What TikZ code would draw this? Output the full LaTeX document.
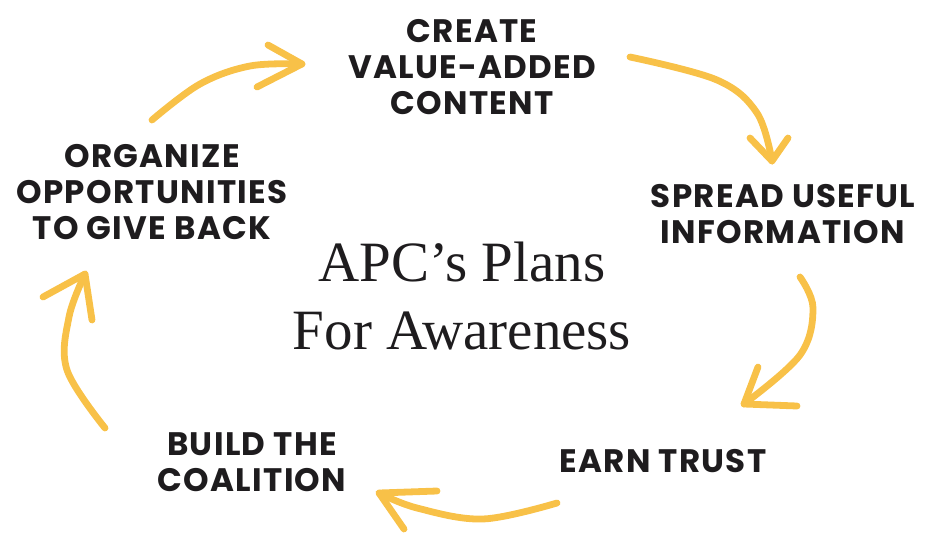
\documentclass[tikz,border=0pt]{standalone}
\usepackage{fontspec}
\newfontfamily\lblfont{Poppins}[LetterSpace=4]
\newfontfamily\titlefont{Liberation Serif}
\definecolor{arrowyellow}{RGB}{248,193,72}
\definecolor{labeltext}{RGB}{30,28,30}
\tikzset{
  lbl/.style={font=\lblfont\bfseries\fontsize{32.5}{36}\selectfont, text=labeltext, align=center, inner sep=0pt, anchor=north},
  ttl/.style={font=\titlefont\fontsize{57}{68}\selectfont, text=labeltext, align=center, inner sep=0pt},
  swoosh/.style={draw=arrowyellow, line width=6.8pt, line cap=round, line join=round},
}
\begin{document}
\begin{tikzpicture}[x=1pt,y=-1pt]
\useasboundingbox (0,0) rectangle (936,554);
% labels
\node[lbl] (create) at (472,19) {CREATE\\VALUE-ADDED\\CONTENT};
\node[lbl] (spread) at (783,184) {SPREAD USEFUL\\INFORMATION};
\node[lbl] (earn) at (663,449) {EARN TRUST};
\node[lbl] (build) at (252,432) {BUILD THE\\COALITION};
\node[lbl] (organize) at (152,144) {ORGANIZE\\OPPORTUNITIES\\TO GIVE BACK};
\node[ttl] (title) at (462,296) {APC’s Plans\\For Awareness};
% arrow 1: organize -> create
\coordinate (a1s) at (152,120);
\coordinate (a1t) at (302,64);
\draw[swoosh] plot[smooth, tension=0.6] coordinates {(a1s) (200,84) (250,66) (a1t)};
\draw[swoosh] (268,45) -- (a1t) -- (257,87);
% arrow 2: create -> spread
\coordinate (a2s) at (630,57);
\coordinate (a2t) at (772,161);
\draw[swoosh] plot[smooth, tension=0.6] coordinates {(a2s) (717,80) (757,113) (a2t)};
\draw[swoosh] (750,138) -- (a2t) -- (788,138);
% arrow 3: spread -> earn
\coordinate (a3s) at (800,277);
\coordinate (a3t) at (744,404);
\draw[swoosh] plot[smooth, tension=0.6] coordinates {(a3s) (813,308) (800,355) (a3t)};
\draw[swoosh] (758,367) -- (a3t) -- (797,406);
% arrow 4: earn -> build
\coordinate (a4s) at (557,503);
\coordinate (a4t) at (379,493);
\draw[swoosh] plot[smooth, tension=0.6] coordinates {(a4s) (483,519) (417,508) (a4t)};
\draw[swoosh] (437,491) -- (a4t) -- (404,529);
% arrow 5: build -> organize
\coordinate (a5s) at (105,428);
\coordinate (a5t) at (85,274);
\draw[swoosh] plot[smooth, tension=0.6] coordinates {(a5s) (67,370) (69,317) (a5t)};
\draw[swoosh] (43,297) -- (a5t) -- (92,320);
\end{tikzpicture}
\end{document}
